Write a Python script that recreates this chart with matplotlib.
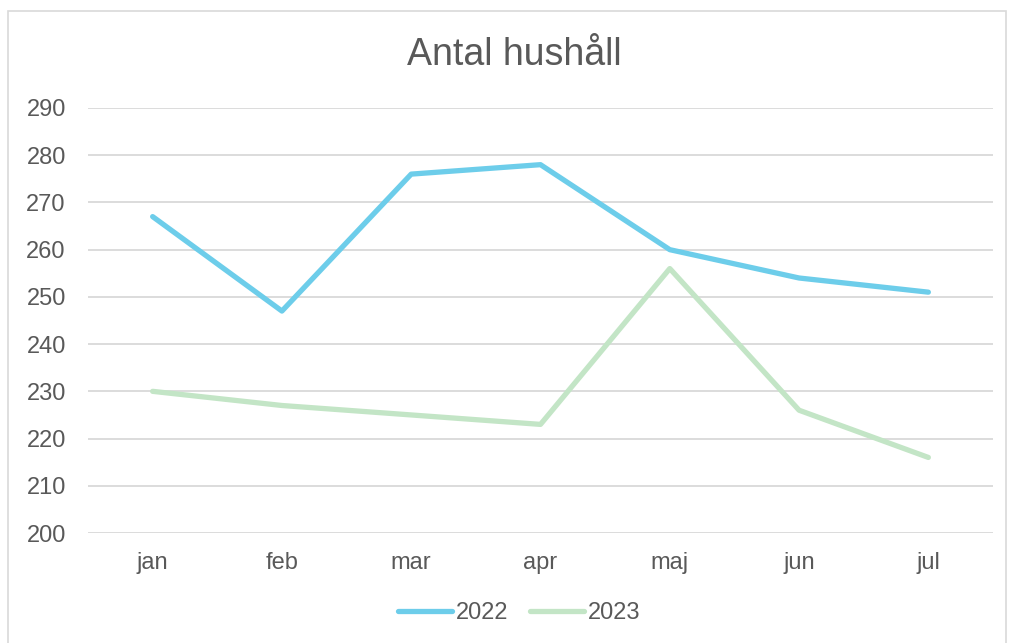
import matplotlib.pyplot as plt
from matplotlib.patches import Rectangle
from matplotlib.lines import Line2D

months = ["jan", "feb", "mar", "apr", "maj", "jun", "jul"]
y2022 = [267, 247, 276, 278, 260, 254, 251]
y2023 = [230, 227, 225, 223, 256, 226, 216]
yticks = [200, 210, 220, 230, 240, 250, 260, 270, 280, 290]

plt.rcParams["font.family"] = ["Liberation Sans", "DejaVu Sans"]
text_c = "#595959"
grid_c = "#D9D9D9"

fig = plt.figure(figsize=(10.09, 6.43), dpi=100)
fig.patches.append(Rectangle((8 / 1009, -0.05), 998 / 1009, 1.05 - 11 / 643,
                             transform=fig.transFigure, fill=False,
                             edgecolor=grid_c, linewidth=1.2))

ax = fig.add_axes([88 / 1009, 110 / 643, 905 / 1009, 425 / 643])
x = list(range(len(months)))
ax.plot(x, y2022, color="#6DCDEA", linewidth=3.8, solid_capstyle="round",
        solid_joinstyle="round", label="2022", zorder=3)
ax.plot(x, y2023, color="#C3E5C6", linewidth=3.8, solid_capstyle="round",
        solid_joinstyle="round", label="2023", zorder=3)

ax.set_xlim(-0.5, len(months) - 0.5)
ax.set_ylim(200, 290)
ax.set_yticks(yticks)
ax.set_xticks(x)
ax.set_xticklabels(months)
for yt in yticks:
    ax.axhline(yt, color=grid_c, linewidth=1.3, zorder=1)
for s in ax.spines.values():
    s.set_visible(False)
ax.tick_params(length=0, labelsize=17, colors=text_c)
ax.tick_params(axis="y", pad=16)
ax.tick_params(axis="x", pad=14)

fig.text(514 / 1009, 1 - 55 / 643, "Antal hushåll", ha="center", va="center",
         fontsize=27, color=text_c)

handles = [Line2D([], [], color="#6DCDEA", linewidth=3.8, solid_capstyle="round"),
           Line2D([], [], color="#C3E5C6", linewidth=3.8, solid_capstyle="round")]
fig.legend(handles, ["2022", "2023"], loc="center", bbox_to_anchor=(519 / 1009, 1 - 613 / 643),
           ncol=2, frameon=False, fontsize=17, labelcolor=text_c,
           handlelength=2.3, handletextpad=0.15, columnspacing=0.9)

fig.savefig("out.png", dpi=100, facecolor="white")
